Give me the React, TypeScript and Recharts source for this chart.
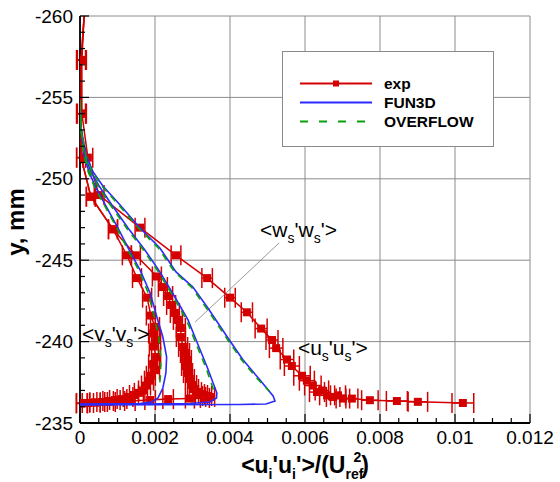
import { ScatterChart, Scatter, XAxis, YAxis, CartesianGrid, ErrorBar, ReferenceLine, ReferenceDot } from 'recharts'

const FONT = '"Liberation Sans", Arial, Helvetica, sans-serif'
const RED = '#d40000'
const BLUE = '#2b2bff'
const GREEN = '#0a9f0a'

// axis ticks
const xTicks = [0, 0.0005, 0.001, 0.0015, 0.002, 0.0025, 0.003, 0.0035, 0.004, 0.0045, 0.005, 0.0055, 0.006, 0.0065, 0.007, 0.0075, 0.008, 0.0085, 0.009, 0.0095, 0.01, 0.0105, 0.011, 0.0115, 0.012]
const xMajor = [0, 0.002, 0.004, 0.006, 0.008, 0.01, 0.012]
const yTicks = [-260, -259, -258, -257, -256, -255, -254, -253, -252, -251, -250, -249, -248, -247, -246, -245, -244, -243, -242, -241, -240, -239, -238, -237, -236, -235]
const yMajor = [-260, -255, -250, -245, -240, -235]

// experiment: [x, y, x-error]
const expUu: [number, number, number | null][] = [
  [0.00011, -260.0, null], [0.00005, -257.3, 0.00012], [0.00005, -254.0, 0.00012], [0.00021, -251.3, 0.00013],
  [0.00051, -249.0, 0.00013], [0.0016, -247.0, 0.00013], [0.00256, -245.3, 0.00013], [0.00339, -243.9, 0.00014],
  [0.004, -242.7, 0.00014], [0.00445, -241.8, 0.00015], [0.00483, -240.8, 0.00016], [0.00512, -240.1, 0.00016],
  [0.00523, -239.6, 0.00018], [0.00552, -238.9, 0.00018], [0.00565, -238.5, 0.0002], [0.00592, -237.9, 0.00022],
  [0.00605, -237.6, 0.0002], [0.00621, -237.3, 0.00022], [0.00632, -236.9, 0.0002], [0.00645, -237.0, 0.00018],
  [0.00659, -236.7, 0.0002], [0.00675, -236.6, 0.00018], [0.00688, -236.7, 0.0002], [0.00701, -236.5, 0.00018],
  [0.00725, -236.5, 0.00016], [0.00773, -236.4, 0.00022], [0.00845, -236.35, 0.00028], [0.00901, -236.3, 0.00026],
  [0.01021, -236.23, 0.00029],
]
const expVv: [number, number, number | null][] = [
  [0.00011, -260.0, null], [0.00003, -257.3, 0.00012], [0.00003, -254.0, 0.00012], [0.00003, -251.3, 0.00012],
  [0.00029, -248.9, 0.00012], [0.00088, -246.9, 0.00012], [0.00125, -245.3, 0.00012], [0.00152, -243.9, 0.00012],
  [0.00179, -242.7, 0.00012], [0.00189, -241.6, 0.00012], [0.002, -240.9, 0.00012], [0.00195, -240.5, 0.00012],
  [0.00203, -240.1, 0.00012], [0.00197, -239.7, 0.00012], [0.00203, -239.05, 0.00012], [0.00195, -238.6, 0.00012],
  [0.002, -238.26, 0.00012], [0.00189, -237.9, 0.00012], [0.00184, -237.6, 0.00012], [0.00176, -237.3, 0.00012],
  [0.00168, -237.0, 0.00012], [0.00157, -236.85, 0.00012], [0.00144, -236.72, 0.00012], [0.00128, -236.6, 0.00013],
  [0.00112, -236.47, 0.00013], [0.00093, -236.41, 0.00014], [0.00075, -236.35, 0.00014], [0.00059, -236.29, 0.00014],
  [0.0004, -236.26, 0.00014], [0.00021, -236.23, 0.00015], [0.00005, -236.2, 0.00015],
]
const expWw: [number, number, number | null][] = [
  [0.00011, -260.0, null], [0.00003, -257.3, 0.00012], [0.00003, -254.0, 0.00012], [0.00003, -251.3, 0.00012],
  [0.00029, -248.9, 0.00012], [0.00088, -246.9, 0.00012], [0.00149, -245.3, 0.00012], [0.00205, -244.0, 0.00012],
  [0.00221, -243.35, 0.00012], [0.00235, -242.8, 0.00012], [0.00243, -242.25, 0.00012], [0.00253, -241.76, 0.00012],
  [0.00261, -241.33, 0.00012], [0.00269, -240.84, 0.00012], [0.00269, -240.28, 0.00012], [0.00275, -239.67, 0.00012],
  [0.0028, -239.3, 0.00012], [0.00285, -238.87, 0.00012], [0.00283, -238.5, 0.00012], [0.00288, -238.07, 0.00012],
  [0.00293, -237.7, 0.00012], [0.00299, -237.33, 0.00012], [0.00304, -237.09, 0.00012], [0.00312, -236.9, 0.00012],
  [0.0032, -236.78, 0.00012], [0.00328, -236.72, 0.00012], [0.00339, -236.66, 0.00012], [0.00347, -236.6, 0.00012],
  [0.00333, -236.54, 0.00012], [0.00293, -236.5, 0.00012], [0.00235, -236.47, 0.00014], [0.00187, -236.41, 0.00014],
  [0.00133, -236.35, 0.00014], [0.0008, -236.29, 0.00014], [0.0004, -236.26, 0.00014], [0.00005, -236.23, 0.00014],
]

// FUN3D: [x, y]
const fun3dVv: [number, number][] = [
  [0, -254.5], [0.00003, -253.0], [0.00011, -251.46], [0.00024, -250.42], [0.00043, -249.43], [0.00069, -248.33],
  [0.00101, -246.98], [0.00131, -245.63], [0.0016, -244.4], [0.00187, -242.99], [0.00205, -241.51], [0.00221, -240.28],
  [0.00231, -239.05], [0.00229, -238.07], [0.00221, -237.15], [0.00208, -236.54], [0.00192, -236.29], [0.0016, -236.2],
  [0, -236.17],
]
const fun3dWw: [number, number][] = [
  [0, -254.5], [0.00003, -253.0], [0.00013, -251.46], [0.00029, -250.42], [0.00051, -249.56], [0.00085, -248.39],
  [0.00128, -246.98], [0.00173, -245.63], [0.00213, -244.28], [0.00253, -242.74], [0.00288, -241.33], [0.00315, -239.79],
  [0.00339, -238.44], [0.00355, -237.46], [0.00365, -236.84], [0.00364, -236.54], [0.00347, -236.29], [0.00293, -236.2],
  [0, -236.14],
]
const fun3dUu: [number, number][] = [
  [0, -254.84], [0.00003, -253.12], [0.00016, -251.46], [0.00035, -250.42], [0.00061, -249.56], [0.00107, -248.39],
  [0.0016, -246.98], [0.00213, -245.75], [0.00256, -244.28], [0.00301, -243.35], [0.00341, -242.06], [0.004, -240.04],
  [0.00435, -238.87], [0.0048, -237.64], [0.00515, -236.66], [0.0052, -236.35], [0.00496, -236.17], [0.00427, -236.14],
  [0, -236.11],
]

// OVERFLOW: [x, y]
const overflowVv: [number, number][] = [
  [0, -254.5], [0.00003, -253.0], [0.0001, -251.46], [0.00022, -250.42], [0.0004, -249.43], [0.00066, -248.33],
  [0.00098, -246.98], [0.00128, -245.63], [0.00156, -244.4], [0.00182, -242.99], [0.00198, -241.51], [0.0021, -240.28],
  [0.00215, -239.05], [0.00215, -238.07], [0.00212, -237.27],
]
const overflowWw: [number, number][] = [
  [0, -254.5], [0.00003, -253.0], [0.00012, -251.46], [0.00027, -250.42], [0.00048, -249.56], [0.00081, -248.39],
  [0.00124, -246.98], [0.00169, -245.63], [0.00209, -244.28], [0.00249, -242.74], [0.00284, -241.33], [0.00311, -239.79],
  [0.00335, -238.44], [0.0035, -237.46], [0.00358, -236.9],
]
const overflowUu: [number, number][] = [
  [0, -254.84], [0.00003, -253.12], [0.00015, -251.46], [0.00033, -250.42], [0.00058, -249.56], [0.00103, -248.39],
  [0.00156, -246.98], [0.00209, -245.75], [0.00252, -244.28], [0.00297, -243.35], [0.00337, -242.06], [0.00396, -240.04],
  [0.00431, -238.87], [0.00476, -237.64], [0.00505, -236.95],
]

const toExp = (rows: [number, number, number | null][]) => rows.map(([x, y, err]) => ({ x, y, err }))
const toLine = (rows: [number, number][]) => rows.map(([x, y]) => ({ x, y }))

const noShape = () => <g />
const expShape = (p: any) =>
  p.payload?.err == null ? <g /> : <rect x={p.cx - 4} y={p.cy - 4} width={8} height={8} fill={RED} />

function XTick({ x, y, payload }: any) {
  const v = payload.value
  const major = xMajor.some((m) => Math.abs(m - v) < 1e-9)
  return (
    <g>
      <line x1={x} x2={x} y1={y} y2={y - (major ? 9 : 5)} stroke="#000" strokeWidth={1.2} />
      {major && (
        <text x={x} y={y + 21} textAnchor="middle" fontSize={19} fontFamily={FONT} fill="#000">
          {String(v)}
        </text>
      )}
    </g>
  )
}

function YTick({ x, y, payload }: any) {
  const v = payload.value
  const major = yMajor.includes(v)
  return (
    <g>
      <line x1={x} x2={x + (major ? 9 : 5)} y1={y} y2={y} stroke="#000" strokeWidth={1.2} />
      {major && (
        <text x={x - 7} y={y} dy="0.35em" textAnchor="end" fontSize={19} fontFamily={FONT} fill="#000">
          {String(v)}
        </text>
      )}
    </g>
  )
}

function Corr({ cx, cy, c }: { cx: number; cy: number; c: string }) {
  return (
    <text x={cx} y={cy} fontSize={21} fontFamily={FONT} fill="#000">
      {'<' + c}
      <tspan fontSize={14} dy={6}>s</tspan>
      <tspan dy={-6}>{"'" + c}</tspan>
      <tspan fontSize={14} dy={6}>s</tspan>
      <tspan dy={-6}>{"'>"}</tspan>
    </text>
  )
}

function XLabel({ viewBox }: any) {
  const cx = viewBox.x + viewBox.width / 2
  return (
    <text x={cx} y={viewBox.y + 50} textAnchor="middle" fontSize={23} fontWeight="bold" fontFamily={FONT} fill="#000">
      {'<u'}
      <tspan fontSize={14} dy={6}>i</tspan>
      <tspan dy={-6}>{"'u"}</tspan>
      <tspan fontSize={14} dy={6}>i</tspan>
      <tspan dy={-6}>{"'>/(U"}</tspan>
      <tspan fontSize={14} dy={6}>ref</tspan>
      <tspan fontSize={14} dx={-10} dy={-17}>2</tspan>
      <tspan dy={11}>)</tspan>
    </text>
  )
}

function YLabel() {
  return (
    <text x={24} y={222} transform="rotate(-90 24 222)" textAnchor="middle" fontSize={24} fontWeight="bold" fontFamily={FONT} fill="#000">
      y, mm
    </text>
  )
}

function LegendBox() {
  const row = (y: number, label: string, color: string, dash?: string, marker?: boolean) => (
    <g>
      <line x1={17} x2={89} y1={y} y2={y} stroke={color} strokeWidth={2} strokeDasharray={dash} />
      {marker && <rect x={50} y={y - 3} width={6} height={6} fill={color} />}
      <text x={101} y={y} dy="0.35em" fontSize={15.5} fontWeight="bold" fontFamily={FONT} fill="#000">
        {label}
      </text>
    </g>
  )
  return (
    <div style={{ position: 'absolute', left: 282, top: 51, width: 210, height: 94, border: '1px solid #8a8a8a', background: '#fff' }}>
      <svg width={210} height={94}>
        {row(31.5, 'exp', RED, undefined, true)}
        {row(50.5, 'FUN3D', BLUE)}
        {row(69.5, 'OVERFLOW', GREEN, '8 11')}
      </svg>
    </div>
  )
}

export default function App() {
  return (
    <div style={{ position: 'absolute', left: 0, top: 0, width: 560, height: 482, fontFamily: FONT, background: '#fff' }}>
      <ScatterChart width={560} height={482} margin={{ top: 16, right: 30, left: 0, bottom: 0 }}>
        <CartesianGrid stroke="#8c8c8c" strokeWidth={1} verticalValues={xMajor} horizontalValues={yMajor} />
        <XAxis
          type="number"
          dataKey="x"
          domain={[0, 0.012]}
          ticks={xTicks}
          interval={0}
          allowDataOverflow
          height={59}
          tickSize={0}
          tickMargin={0}
          tickLine={false}
          tick={<XTick />}
          axisLine={{ stroke: '#000', strokeWidth: 1.8 }}
          label={<XLabel />}
        />
        <YAxis
          type="number"
          dataKey="y"
          domain={[-260, -235]}
          reversed
          ticks={yTicks}
          interval={0}
          allowDataOverflow
          width={80}
          tickSize={0}
          tickMargin={0}
          tickLine={false}
          tick={<YTick />}
          axisLine={{ stroke: '#000', strokeWidth: 1.8 }}
          label={<YLabel />}
        />

        {[expVv, expWw, expUu].map((rows, i) => (
          <Scatter key={'exp' + i} data={toExp(rows)} fill={RED} line={{ stroke: RED, strokeWidth: 1.5 }} shape={expShape} isAnimationActive={false}>
            <ErrorBar dataKey="err" direction="x" width={10} stroke={RED} strokeWidth={1.5} />
          </Scatter>
        ))}
        {[fun3dVv, fun3dWw, fun3dUu].map((rows, i) => (
          <Scatter key={'f' + i} data={toLine(rows)} fill={BLUE} line={{ stroke: BLUE, strokeWidth: 1.6 }} shape={noShape} isAnimationActive={false} />
        ))}
        {[overflowVv, overflowWw, overflowUu].map((rows, i) => (
          <Scatter key={'o' + i} data={toLine(rows)} fill={GREEN} line={{ stroke: GREEN, strokeWidth: 1.6, strokeDasharray: '7 6' }} shape={noShape} isAnimationActive={false} />
        ))}

        <ReferenceLine segment={[{ x: 0.00531, y: -246.06 }, { x: 0.00307, y: -241.2 }]} stroke="#808080" strokeWidth={0.8} />
        <ReferenceDot x={0.0048} y={-246.42} r={0} shape={(p: any) => <Corr cx={p.cx} cy={p.cy} c="w" />} />
        <ReferenceDot x={0.00005} y={-240.05} r={0} shape={(p: any) => <Corr cx={p.cx} cy={p.cy} c="v" />} />
        <ReferenceDot x={0.00581} y={-239.18} r={0} shape={(p: any) => <Corr cx={p.cx} cy={p.cy} c="u" />} />
      </ScatterChart>
      <LegendBox />
    </div>
  )
}
